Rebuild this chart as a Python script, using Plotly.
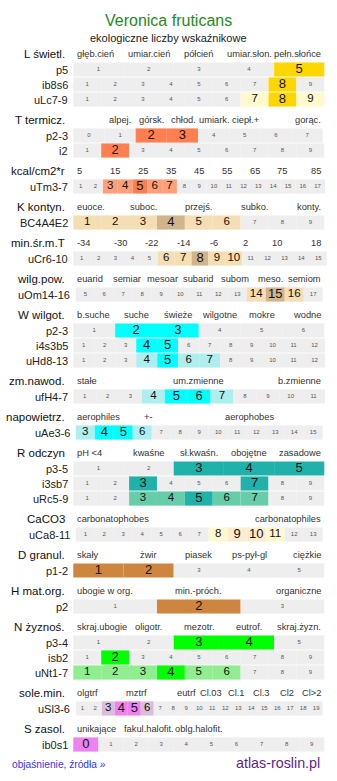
import plotly.graph_objects as go

# ---------------- data ----------------
title = "Veronica fruticans"
subtitle = "ekologiczne liczby wskaźnikowe"
footer_left = "objaśnienie, źródła »"
footer_right = "atlas-roslin.pl"

group_labels = ["L świetl.", "T termicz.", "kcal/cm2*r", "K kontyn.", "min.śr.m.T",
                "wilg.pow.", "W wilgot.", "zm.nawod.", "napowietrz.", "R odczyn",
                "CaCO3", "D granul.", "H mat.org.", "N żyznoś.", "sole.min.", "S zasol."]

group_headers = [
    ["głęb.cień", "umiar.cień", "półcień", "umiar.słon.", "pełn.słońce"],
    ["", "alpej.", "górsk.", "chłod.", "umiark.", "ciepł.+", "", "gorąc."],
    ["5", "15", "25", "35", "45", "55", "65", "75", "85"],
    ["euoce.", "", "suboc.", "", "przejś.", "", "subko.", "", "konty."],
    ["-34", "-30", "-22", "-14", "-6", "2", "10", "18"],
    ["euarid", "semiar", "mesoar", "subarid", "subom", "meso.", "semiom"],
    ["b.suche", "suche", "świeże", "wilgotne", "mokre", "wodne"],
    ["stałe", "um.zmienne", "b.zmienne"],
    ["aerophiles", "+-", "", "aerophobes", ""],
    ["pH <4", "kwaśne", "sł.kwaśn.", "obojętne", "zasadowe"],
    ["carbonatophobes", "carbonatophiles"],
    ["skały", "żwir", "piasek", "ps-pył-gl", "ciężkie"],
    ["ubogie w org.", "min.-próch.", "organiczne"],
    ["skraj.ubogie", "oligotr.", "mezotr.", "eutrof.", "skraj.żyzn."],
    ["olgtrf", "", "mztrf", "", "eutrf", "Cl.03", "Cl.1", "Cl.3", "Cl2", "Cl>2"],
    ["unikające", "fakul.halofit.", "oblg.halofit.", "", ""],
]

group_primary_color = ["#FFD700", "#FF7F50", "#FF7F50", "#D2B48C", "#D2B48C", "#D2B48C",
                       "#00FFFF", "#00FFFF", "#00FFFF", "#20B2AA", "#FFEBCD", "#CD853F",
                       "#CD853F", "#00FF00", "#EE82EE", "#EE82EE"]
group_secondary_color = ["#FFFACD", "#FFA07A", "#FFA07A", "#F5DEB3", "#F5DEB3", "#F5DEB3",
                         "#AFEEEE", "#AFEEEE", "#AFEEEE", "#66CDAA", "#FFFACD", "#DEB887",
                         "#DEB887", "#90EE90", "#D8BFD8", "#D8BFD8"]

row_group = [0, 0, 0, 1, 1, 2, 3, 4, 5, 6, 6, 6, 7, 8, 9, 9, 9, 10, 11, 12, 13, 13, 13, 14, 15]
row_labels = ["p5", "ib8s6", "uLc7-9", "p2-3", "i2", "uTm3-7", "BC4A4E2", "uCr6-10",
              "uOm14-16", "p2-3", "i4s3b5", "uHd8-13", "ufH4-7", "uAe3-6", "p3-5",
              "i3sb7", "uRc5-9", "uCa8-11", "p1-2", "p2", "p3-4", "isb2", "uNt1-7",
              "uSl3-6", "ib0s1"]
row_first = [1, 1, 1, 0, 1, 1, 1, 1, 5, 1, 1, 1, 1, 3, 1, 1, 1, 1, 1, 1, 1, 1, 1, 1, 0]
row_last = [5, 9, 9, 7, 9, 17, 9, 15, 17, 6, 12, 12, 11, 15, 5, 9, 9, 13, 5, 3, 5, 9, 9, 19, 9]
row_primary = [[5], [8], [8], [2, 3], [2], [5], [4], [8], [15], [2, 3], [4, 5], [5],
               [5, 6], [4, 5], [3, 4, 5], [3, 7], [5], [9, 10], [1, 2], [2], [3, 4],
               [2], [4], [4, 5], [0]]
row_secondary = [[], [], [7, 9], [], [], [3, 4, 6, 7], [1, 2, 3, 5, 6], [6, 7, 9, 10],
                 [14, 16], [], [], [4, 6, 7], [4, 7], [3, 6], [], [], [3, 4, 6, 7],
                 [8, 11], [], [], [], [], [1, 2, 3, 5, 6], [3, 6], []]

# ---------------- layout ----------------
W, H = 337, 781
FONT = "Liberation Sans, Arial, sans-serif"
X0, X1 = 73.3, 324.3
GRAY = "#EEEEEE"
Y_FIRST_HEADER = 54
HEADER_TO_ROW = 15.5
ROW_PITCH = 15
GROUP_BASE = 21
CELL_H = 14.2


def row_extent(n):
    ext = {13: (75.8, 322.7), 19: (75.8, 322.7), 15: (73.3, 326.7),
           17: (73.3, 325.0), 12: (73.3, 325.0), 11: (73.3, 325.0), 8: (73.3, 322.7)}
    return ext.get(n, (X0, X1))


annotations = []


def ann(x, y, text, size, color="#222", xanchor="center"):
    annotations.append(dict(x=x, y=y, xref="x", yref="y", text=text, showarrow=False,
                            xanchor=xanchor, yanchor="middle",
                            font=dict(family=FONT, size=size, color=color)))


ann(168.5, 20, title, 16, "#1f8a1f")
ann(168.5, 38, subtitle, 11, "#222")

bar_x, bar_base, bar_y, bar_c = [], [], [], []
num_x, num_y, num_t, num_s, num_c = [], [], [], [], []

y_header = Y_FIRST_HEADER
for g, glabel in enumerate(group_labels):
    ann(67, y_header, glabel, 11.5, "#111", "right")
    hdr = group_headers[g]
    n = len(hdr)
    cw = (X1 - X0) / n
    for i, t in enumerate(hdr):
        if not t:
            continue
        if i == 0:
            ann(X0 + 1.2, y_header, t, 9.3, "#333", "left")
        elif i == n - 1:
            ann(X1 - 1.2, y_header, t, 9.3, "#333", "right")
        else:
            ann(X0 + (i + 0.5) * cw, y_header, t, 9.3, "#333", "center")
    rows = [r for r in range(len(row_labels)) if row_group[r] == g]
    for k, r in enumerate(rows):
        yc = y_header + HEADER_TO_ROW + k * ROW_PITCH
        vals = list(range(row_first[r], row_last[r] + 1))
        a, b = row_extent(len(vals))
        w = (b - a) / len(vals)
        ann(a - 3.5, yc, row_labels[r], 11, "#222", "right")
        for j, v in enumerate(vals):
            if v in row_primary[r]:
                col, fs, fc = group_primary_color[g], 13, "#111"
            elif v in row_secondary[r]:
                col, fs, fc = group_secondary_color[g], 11.5, "#111"
            else:
                col, fs, fc = GRAY, 6, "#555"
            bar_x.append(w)
            bar_base.append(a + j * w)
            bar_y.append(yc)
            bar_c.append(col)
            num_x.append(a + (j + 0.5) * w)
            num_y.append(yc)
            num_t.append(str(v))
            num_s.append(fs)
            num_c.append(fc)
    y_header += GROUP_BASE + ROW_PITCH * len(rows)

ann(10, 764, footer_left, 10.2, "#3535f0", "left")
ann(322, 763, footer_right, 14.3, "#5e1f8c", "right")

fig = go.Figure()
fig.add_trace(go.Bar(orientation="h", x=bar_x, base=bar_base, y=bar_y,
                     width=[CELL_H] * len(bar_x), marker=dict(color=bar_c, line=dict(width=0)),
                     hoverinfo="skip"))
fig.add_trace(go.Scatter(x=num_x, y=num_y, text=num_t, mode="text", textposition="middle center",
                         textfont=dict(family=FONT, size=num_s, color=num_c), hoverinfo="skip"))

fig.update_layout(width=W, height=H, margin=dict(l=0, r=0, t=0, b=0),
                  paper_bgcolor="white", plot_bgcolor="white", showlegend=False,
                  barmode="overlay", hovermode=False, annotations=annotations,
                  xaxis=dict(range=[0, W], visible=False, fixedrange=True),
                  yaxis=dict(range=[H, 0], visible=False, fixedrange=True))
fig.write_html("out.html", config={"displayModeBar": False})
